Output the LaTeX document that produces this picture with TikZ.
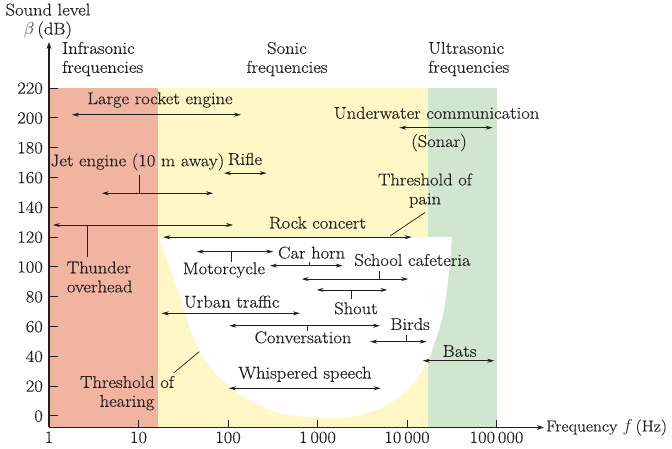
\documentclass[tikz,border=0pt]{standalone}
\usepackage{amsmath, amssymb}
\usepackage{fontspec}
\setmainfont{Latin Modern Roman}[FakeStretch=1.09, FakeBold=0.35]
\usepackage{tikz}
\usetikzlibrary{arrows.meta, positioning}
\definecolor{infra}{RGB}{240,180,160}
\definecolor{sonic}{RGB}{255,247,198}
\definecolor{ultra}{RGB}{208,230,206}
\definecolor{ink}{RGB}{35,31,32}
\newcommand{\dblarrow}[2]{\draw[<->, ink, line width=0.8pt] (#1) -- (#2);}

\begin{document}
\begin{tikzpicture}[x=89.5pt, y=1.49pt, >={Stealth[length=7pt,width=4pt]},
    font=\fontsize{17}{19}\selectfont, every node/.style={text=ink, inner sep=0pt},
    lbl/.style={align=center}, lead/.style={ink, line width=0.7pt}]
        \useasboundingbox (-49pt,-33pt) rectangle (623pt,416pt);
        \fill[infra] (0,-7.7) rectangle (1.223,220);
        \fill[sonic] (1.223,-7.7) rectangle (4.23,220);
        \fill[ultra] (4.23,-7.7) rectangle (5,220);
        \fill[white] plot[smooth, tension=0.6] coordinates {(1.221,120) (1.352,100.2) (1.464,80.1)
            (1.612,53.2) (1.799,33.1) (2.022,19.7) (2.246,10.7) (2.581,1.8) (3.140,-1.5)
            (3.475,0.7) (3.810,8.5) (4.070,21.9) (4.238,37.6) (4.294,46.5) (4.406,68.9)
            (4.480,102.5) (4.499,120)} -- cycle;
        \coordinate (origin) at (0,-7.7);
        \coordinate (ytop) at (0,251);
        \coordinate (xend) at (5.53,-7.7);
        \draw[ink, line width=1.3pt, -{Stealth[length=7pt,width=5pt]}] (origin) -- (ytop);
        \draw[ink, line width=1.3pt, -{Stealth[length=7pt,width=5pt]}] (origin) -- (xend);
        \foreach \v in {0,20,...,220} {
            \draw[ink, line width=1pt] (0,\v) -- ++(9pt,0);
            \node (yl\v) [anchor=east] at ([xshift=-6pt]0,\v) {\v};
        }
        \foreach \e/\t in {0/1, 1/10, 2/100, 3/1\,000, 4/10\,000, 5/100\,000} {
            \draw[ink, line width=1pt] (\e,-7.7) -- ++(0,7pt);
            \node (xl\e) [anchor=north] at ([yshift=-4pt]\e,-7.7) {\t};
        }
        \node (ylab) [lbl] at (-0.011,265) {Sound level\\$\beta$\,(dB)};
        \node (flab) [right=2pt of xend, font=\fontsize{16}{19}\selectfont] {Frequency $f$\,(Hz)};
        \node (infr) [align=left, anchor=west] at (0.145,239.6) {Infrasonic\\frequencies};
        \node (son) [lbl] at (2.659,239.6) {Sonic\\frequencies};
        \node (ultr) [align=left, anchor=west] at (4.235,239.6) {Ultrasonic\\frequencies};

        \coordinate (rkL) at (0.257,202.2); \coordinate (rkR) at (2.145,202.2);
        \dblarrow{rkL}{rkR}
        \node (rocket) at (1.240,212.1) {Large rocket engine};

        \coordinate (jtL) at (0.589,149.5); \coordinate (jtR) at (1.833,149.5);
        \coordinate (jtS) at (1.009,149.5);
        \dblarrow{jtL}{jtR}
        \node (jet) at (0.989,170.5) {Jet engine (10 m away)};
        \draw[lead] (jtS) -- ([yshift=-4pt]jet.south -| jtS);

        \coordinate (rfL) at (1.955,163); \coordinate (rfR) at (2.432,163);
        \dblarrow{rfL}{rfR}
        \node (rifle) at (2.190,172.5) {Rifle};

        \coordinate (uwL) at (3.914,193.5); \coordinate (uwR) at (4.957,193.5);
        \dblarrow{uwL}{uwR}
        \node (water) at (4.330,203.4) {Underwater communication};
        \node (sonar) at (4.358,183.4) {(Sonar)};

        \coordinate (thL) at (0.045,128.2); \coordinate (thR) at (2.056,128.2);
        \coordinate (thS) at (0.428,128.2);
        \dblarrow{thL}{thR}
        \node (thunder) [align=left, anchor=west] at (0.198,93.3) {Thunder\\overhead};
        \draw[lead] (thS) -- (0.428,106.9);

        \coordinate (rcL) at (1.277,120); \coordinate (rcR) at (4.052,120);
        \dblarrow{rcL}{rcR}
        \node (rock) at (3.0,129.7) {Rock concert};
        \node (pain) [lbl] at (4.201,151.3) {Threshold of\\pain};
        \draw[lead] (4.204,136.7) -- (3.810,120.8);

        \coordinate (mcL) at (1.650,110.3); \coordinate (mcR) at (2.506,110.3);
        \dblarrow{mcL}{mcR}
        \node (motor) at (1.955,98) {Motorcycle};
        \draw[lead] (2.041,110.3) -- (2.041,103.6);

        \coordinate (chL) at (2.469,100.9); \coordinate (chR) at (3.281,100.9);
        \dblarrow{chL}{chR}
        \node (horn) at (2.935,109.6) {Car horn};
        \draw[lead] (2.908,100.9) -- (2.908,103.6);

        \coordinate (scL) at (2.823,91.9); \coordinate (scR) at (4.014,91.9);
        \dblarrow{scL}{scR}
        \node (school) at (4.061,104.7) {School cafeteria};
        \draw[lead] (3.690,91.9) -- (3.690,97.5);

        \coordinate (shL) at (2.991,84.6); \coordinate (shR) at (3.780,84.6);
        \dblarrow{shL}{shR}
        \node (shout) at (3.430,72.3) {Shout};
        \draw[lead] (3.374,84.6) -- (3.374,78.3);

        \coordinate (utL) at (1.259,68.9); \coordinate (utR) at (2.804,68.9);
        \dblarrow{utL}{utR}
        \node (urban) at (2.041,76.7) {Urban traffic};

        \coordinate (cvL) at (2.015,60.6); \coordinate (cvR) at (3.698,60.6);
        \dblarrow{cvL}{cvR}
        \node (conv) at (2.838,52.8) {Conversation};
        \draw[lead] (2.886,60.6) -- (2.886,57.2);

        \coordinate (bdL) at (3.587,49.9); \coordinate (bdR) at (4.220,49.9);
        \dblarrow{bdL}{bdR}
        \node (birds) at (4.034,61.7) {Birds};
        \draw[lead] (3.989,49.9) -- (3.989,54.4);

        \coordinate (btL) at (4.175,37.1); \coordinate (btR) at (4.975,37.1);
        \dblarrow{btL}{btR}
        \node (bats) at (4.587,43.6) {Bats};

        \coordinate (wsL) at (2.011,18.6); \coordinate (wsR) at (3.706,18.6);
        \dblarrow{wsL}{wsR}
        \node (whisper) at (2.860,28) {Whispered speech};

        \node (hearing) [lbl] at (0.872,15.4) {Threshold of\\hearing};
        \draw[lead] (1.397,29.1) -- (1.679,43.2);
      \end{tikzpicture}
\end{document}
